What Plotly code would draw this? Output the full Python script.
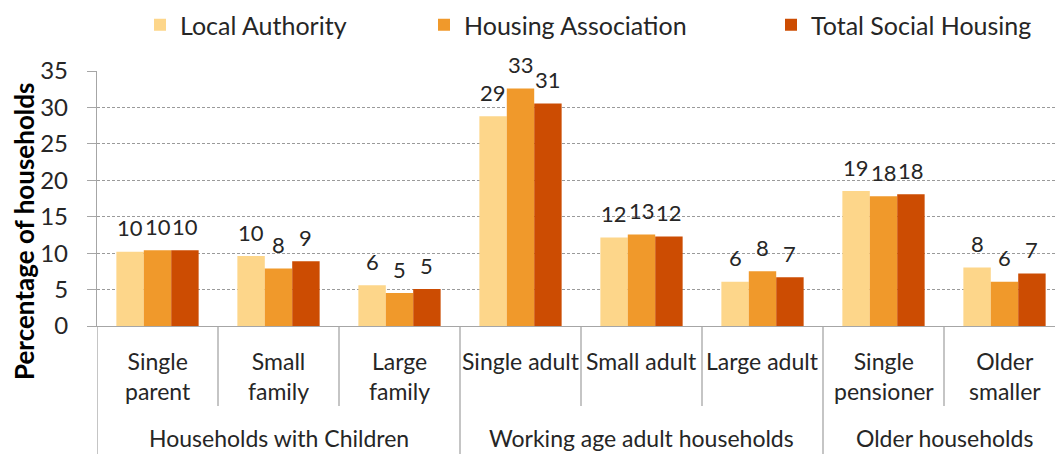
import plotly.graph_objects as go

# ---- data ----
categories = ["Single<br>parent", "Small<br>family", "Large<br>family",
              "Single adult", "Small adult", "Large adult",
              "Single<br>pensioner", "Older<br>smaller"]
groups = ["Households with Children", "Working age adult households", "Older households"]
group_sizes = [3, 3, 2]
series_names = ["Local Authority", "Housing Association", "Total Social Housing"]
local_authority = [10.2, 9.6, 5.6, 28.8, 12.15, 6.07, 18.52, 8.04]
housing_association = [10.4, 7.9, 4.52, 32.6, 12.55, 7.52, 17.8, 6.07]
total_social = [10.4, 8.9, 5.07, 30.55, 12.3, 6.7, 18.1, 7.2]
y_ticks = [0, 5, 10, 15, 20, 25, 30, 35]

colors = ["#FDD68A", "#F0992B", "#CC4C02"]
FONT = "Lato"
TXT = "#262626"

# ---- geometry (pixels) ----
W, H = 1055, 454
L, R, T, B = 97, 0, 71, 128
plot_w = W - L - R
plot_h = H - T - B
cat_px = 121.0
xrange_ = [-0.5, -0.5 + plot_w / cat_px]
BARGAP = 0.32

def py(pix):  # pixel y -> paper y
    return (H - B - pix) / plot_h

def px(pix):  # pixel x -> paper x
    return (pix - L) / plot_w

fig = go.Figure()
xs = list(range(len(categories)))
all_series = [local_authority, housing_association, total_social]
n_series = len(all_series)
bar_w = (1 - BARGAP) / n_series
annotations = []
for i, (name, vals) in enumerate(zip(series_names, all_series)):
    fig.add_trace(go.Bar(
        x=xs, y=vals, name=name, marker=dict(color=colors[i], line=dict(width=0)),
        legend="legend" if i == 0 else f"legend{i+1}",
        hoverinfo="skip",
    ))
    off = (i - (n_series - 1) / 2) * bar_w
    for xi, v in zip(xs, vals):
        annotations.append(dict(x=xi + off, y=v, xref="x", yref="y", text=f"{v:.0f}",
                                showarrow=False, xanchor="center", yanchor="middle",
                                yshift=24, font=dict(family=FONT, size=22, color=TXT)))

legend_x = [140, 424, 771]
leg_common = dict(orientation="h", yanchor="middle", xanchor="left", y=py(25),
                  font=dict(family=FONT, size=25, color=TXT), bgcolor="rgba(0,0,0,0)")

shapes = []
for i, c in enumerate(categories):
    annotations.append(dict(x=i, y=py(345), xref="x", yref="paper", text=c, showarrow=False,
                            yanchor="top", xanchor="center",
                            font=dict(family=FONT, size=23, color=TXT)))
boundaries = [0]
for s in group_sizes:
    boundaries.append(boundaries[-1] + s)
for k in range(len(categories) + 1):
    xb = k - 0.5
    y_end = py(454) if k in boundaries else py(406)
    shapes.append(dict(type="line", xref="x", yref="paper", x0=xb, x1=xb, y0=0, y1=y_end,
                       line=dict(color="#A6A6A6", width=1.3), layer="above"))
for g, name in enumerate(groups):
    start, end = boundaries[g], boundaries[g + 1]
    annotations.append(dict(x=(start + end - 1) / 2, y=py(438), xref="x", yref="paper", text=name,
                            showarrow=False, yanchor="middle", xanchor="center",
                            font=dict(family=FONT, size=23, color=TXT)))
annotations.append(dict(x=px(24), y=py(231), xref="paper", yref="paper",
                        text="<b>Percentage of households</b>", textangle=-90, showarrow=False,
                        xanchor="center", yanchor="middle",
                        font=dict(family=FONT, size=26, color="#000")))

fig.update_layout(
    width=W, height=H, margin=dict(l=L, r=R, t=T, b=B, autoexpand=False),
    paper_bgcolor="white", plot_bgcolor="white",
    barmode="group", bargap=BARGAP, bargroupgap=0,
    showlegend=True,
    legend=dict(x=px(legend_x[0]), **leg_common),
    legend2=dict(x=px(legend_x[1]), **leg_common),
    legend3=dict(x=px(legend_x[2]), **leg_common),
    shapes=shapes, annotations=annotations,
    xaxis=dict(range=xrange_, showticklabels=False, showgrid=False, zeroline=False,
               showline=True, linecolor="#A6A6A6", linewidth=1.3, ticks=""),
    yaxis=dict(range=[0, 35], tickvals=y_ticks, showgrid=True, gridcolor="#9A9A9A",
               griddash="3px,2px", gridwidth=1, zeroline=False, showline=True,
               linecolor="#A6A6A6", linewidth=1.3, ticks="outside", ticklen=9,
               tickcolor="#A6A6A6", tickfont=dict(family=FONT, size=24, color=TXT),
               ticklabelstandoff=14),
)

fig.write_html("out.html", config={"displayModeBar": False},
               post_script="document.body.style.margin='0';document.body.style.overflow='hidden';")
